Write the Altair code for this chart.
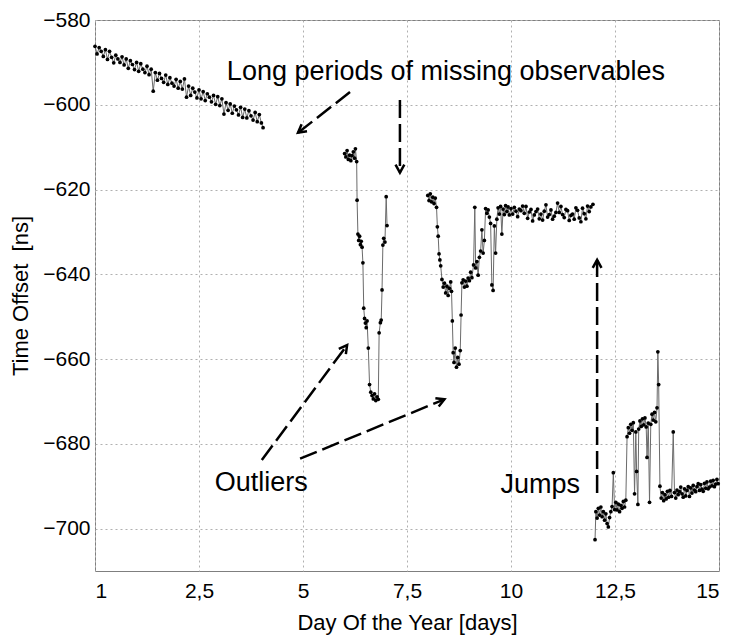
import math
import altair as alt
import pandas as pd

# ---- series (day index 0..15 drawn on axis labelled 1..15) ----
seg1_x = [0.00, 0.05, 0.10, 0.15, 0.20, 0.25, 0.30, 0.35, 0.40, 0.45, 0.50, 0.55, 0.60, 0.65, 0.70, 0.75, 0.80,
          0.85, 0.90, 0.95, 1.00, 1.05, 1.10, 1.15, 1.20, 1.25, 1.30, 1.35, 1.40, 1.45, 1.50, 1.55, 1.60, 1.65,
          1.70, 1.75, 1.80, 1.85, 1.90, 1.95, 2.00, 2.05, 2.10, 2.15, 2.20, 2.25, 2.30, 2.35, 2.40, 2.45, 2.50,
          2.55, 2.60, 2.65, 2.70, 2.75, 2.80, 2.85, 2.90, 2.95, 3.00, 3.05, 3.10, 3.15, 3.20, 3.25, 3.30, 3.35,
          3.40, 3.45, 3.50, 3.55, 3.60, 3.65, 3.70, 3.75, 3.80, 3.85, 3.90, 3.95, 4.00, 4.04]
seg1_y = [-586.2, -588.0, -586.5, -587.4, -588.6, -587.0, -589.3, -587.4, -588.8, -590.1, -588.3, -589.2, -590.0,
          -588.7, -590.6, -589.2, -591.4, -589.6, -590.5, -591.7, -590.0, -592.1, -590.3, -591.6, -592.4, -590.9,
          -592.9, -591.6, -596.8, -592.4, -594.2, -592.6, -593.8, -594.7, -593.0, -595.2, -593.6, -594.9, -595.6,
          -594.0, -596.1, -594.5, -596.3, -593.9, -598.2, -595.6, -597.8, -596.1, -597.0, -598.4, -596.5, -598.6,
          -596.9, -599.0, -597.4, -598.2, -599.3, -597.8, -599.9, -598.1, -600.2, -598.6, -602.2, -599.5, -601.3,
          -599.8, -602.0, -600.3, -601.2, -602.4, -600.6, -603.0, -601.0, -603.1, -601.4, -602.6, -603.6, -601.8,
          -604.0, -602.3, -604.3, -605.4]

seg2_x = [6.00, 6.03, 6.06, 6.09, 6.12, 6.15, 6.18, 6.21, 6.24, 6.26, 6.29, 6.30, 6.32, 6.34, 6.36, 6.38, 6.40,
          6.42, 6.44, 6.46, 6.48, 6.50, 6.52, 6.54, 6.57, 6.60, 6.63, 6.66, 6.69, 6.72, 6.75, 6.78, 6.81, 6.83,
          6.86, 6.88, 6.90, 6.92, 6.94, 6.97, 7.00, 7.02]
seg2_y = [-611.5, -612.3, -610.8, -612.9, -611.9, -613.2, -612.0, -611.1, -612.6, -610.4, -613.4, -622.5, -630.5,
          -632.0, -631.0, -633.0, -632.2, -633.6, -637.3, -648.0, -650.4, -651.5, -652.6, -651.0, -657.4, -666.0,
          -667.8, -668.6, -669.4, -668.2, -669.8, -668.9, -669.5, -653.8, -651.4, -650.8, -643.7, -633.1, -631.5,
          -632.4, -621.7, -628.5]

seg3_x = [8.00, 8.03, 8.06, 8.09, 8.12, 8.15, 8.18, 8.21, 8.23, 8.25, 8.27, 8.29, 8.31, 8.34, 8.37, 8.40, 8.43,
          8.46, 8.49, 8.52, 8.55, 8.57, 8.59, 8.61, 8.63, 8.66, 8.69, 8.72, 8.75, 8.78, 8.80, 8.82, 8.85, 8.88,
          8.91, 8.94, 8.97, 9.00, 9.03, 9.06, 9.10, 9.13, 9.15, 9.18, 9.21, 9.24, 9.27, 9.30, 9.33, 9.36, 9.39,
          9.42, 9.45, 9.48, 9.51, 9.54, 9.57, 9.60, 9.63, 9.66, 9.69, 9.72, 9.75, 9.78, 9.81, 9.84, 9.87, 9.90,
          9.93, 9.96, 10.00, 10.04, 10.08, 10.12, 10.16, 10.20, 10.24, 10.28, 10.32, 10.36, 10.40, 10.44, 10.48,
          10.52, 10.56, 10.60, 10.64, 10.68, 10.72, 10.76, 10.80, 10.84, 10.88, 10.92, 10.96, 11.00, 11.04, 11.08,
          11.12, 11.16, 11.20, 11.24, 11.28, 11.32, 11.36, 11.40, 11.44, 11.48, 11.52, 11.56, 11.60, 11.64, 11.68,
          11.72, 11.76, 11.80, 11.84, 11.88, 11.92, 11.97]
seg3_y = [-621.4, -622.6, -621.0, -622.9, -621.8, -623.3, -622.0, -624.2, -628.8, -631.0, -635.2, -636.6, -638.0,
          -641.2, -643.0, -642.1, -644.4, -642.8, -645.0, -643.3, -641.8, -644.0, -651.0, -658.5, -660.8, -657.4,
          -661.9, -659.6, -661.2, -658.0, -649.6, -642.0, -641.3, -643.0, -641.6, -642.8, -640.9, -641.5, -639.5,
          -640.8, -637.8, -624.2, -638.5, -637.0, -640.2, -636.0, -634.5, -629.5, -635.0, -632.0, -624.5, -625.6,
          -624.8, -626.5, -628.0, -642.5, -643.8, -628.6, -635.0, -627.0, -624.3, -625.8, -624.0, -630.5, -624.6,
          -625.9, -623.8, -625.2, -624.1, -626.0, -624.5, -625.8, -624.2, -625.1, -626.4, -624.6, -625.0, -623.9,
          -625.6, -624.0, -626.8, -625.3, -624.7, -627.4, -626.0, -625.2, -624.6, -626.9, -625.8, -627.2, -625.1,
          -623.6, -626.5, -625.9, -624.8, -627.0, -626.3, -625.4, -623.2, -625.4, -624.0, -625.9, -626.6, -624.7,
          -625.0, -627.3, -626.1, -625.8, -627.0, -624.3, -624.9, -626.7, -627.6, -624.4, -625.7, -626.9, -623.9,
          -625.2, -624.1, -623.5, -624.8, -623.9]

seg4_x = [12.02, 12.04, 12.07, 12.10, 12.13, 12.16, 12.19, 12.22, 12.25, 12.28, 12.31, 12.34, 12.37, 12.40, 12.43,
          12.46, 12.49, 12.52, 12.55, 12.58, 12.61, 12.64, 12.67, 12.70, 12.73, 12.76, 12.79, 12.82, 12.85, 12.88,
          12.91, 12.94, 12.97, 13.00, 13.02, 13.05, 13.07, 13.10, 13.13, 13.16, 13.19, 13.22, 13.25, 13.27, 13.30,
          13.33, 13.36, 13.39, 13.42, 13.45, 13.48, 13.51, 13.53, 13.55, 13.58, 13.61, 13.64, 13.67, 13.70, 13.73,
          13.76, 13.79, 13.82, 13.86, 13.90, 13.93, 13.96, 13.99, 14.02, 14.05, 14.08, 14.11, 14.14, 14.17, 14.20,
          14.23, 14.26, 14.29, 14.32, 14.35, 14.38, 14.41, 14.44, 14.47, 14.50, 14.53, 14.56, 14.59, 14.62, 14.65,
          14.68, 14.71, 14.74, 14.77, 14.80, 14.83, 14.86, 14.89, 14.92, 14.95, 14.98]
seg4_y = [-702.6, -696.0, -697.5, -695.2, -696.8, -694.9, -697.2, -696.0, -698.0, -696.5, -698.8, -699.6, -697.4,
          -696.0, -694.8, -686.8, -695.5, -693.8, -695.6, -694.2, -696.0, -694.5, -695.2, -693.6, -694.9, -693.3,
          -678.3, -676.2, -677.5, -675.4, -676.8, -675.0, -691.8, -677.2, -686.5, -694.3, -676.5, -674.6, -675.9,
          -674.1, -675.5, -673.9, -676.0, -683.2, -675.1, -693.8, -675.4, -673.0, -674.4, -672.6, -674.8, -671.5,
          -658.3, -666.0, -690.0, -692.8, -691.5, -693.4, -692.0, -693.0, -691.2, -692.6, -691.0, -692.4, -677.2,
          -691.5, -692.8, -690.9, -692.0, -691.3, -690.2, -691.8, -692.6, -690.6, -692.3, -691.0, -690.1, -692.4,
          -690.4, -691.6, -689.8, -690.9, -691.3, -690.1, -689.4, -691.0, -689.6, -690.7, -691.2, -689.3, -690.5,
          -689.0, -690.6, -690.2, -688.8, -689.9, -688.6, -690.1, -689.5, -688.4, -689.4]

x_ticks = [0, 2.5, 5, 7.5, 10, 12.5, 15]
y_ticks = [-700, -680, -660, -640, -620, -600, -580]

# ---- annotations ----
note_text = ["Long periods of missing observables", "Outliers", "Jumps"]
note_x = [3.17, 2.88, 9.75]
note_y = [-592.3, -689.2, -689.7]

arrow_x1 = [6.13, 7.33, 4.01, 4.93, 12.07]
arrow_y1 = [-597.0, -598.9, -683.8, -683.5, -691.6]
arrow_x2 = [4.88, 7.33, 6.06, 8.40, 12.07]
arrow_y2 = [-606.6, -616.0, -656.7, -669.5, -636.6]

W, H = 624, 551
XD, YD = [0, 15], [-710, -580]

rows = []
for i, (xs, ys) in enumerate([(seg1_x, seg1_y), (seg2_x, seg2_y), (seg3_x, seg3_y), (seg4_x, seg4_y)]):
    for a, b in zip(xs, ys):
        rows.append({"day": a, "offset": b, "seg": i})
df = pd.DataFrame(rows)

notes = pd.DataFrame({"day": note_x, "offset": note_y, "label": note_text})

pxx = W / (XD[1] - XD[0])
pxy = H / (YD[1] - YD[0])
angles = []
for a1, b1, a2, b2 in zip(arrow_x1, arrow_y1, arrow_x2, arrow_y2):
    dx = (a2 - a1) * pxx
    dy = -(b2 - b1) * pxy
    angles.append(math.degrees(math.atan2(dx, -dy)) % 360)
arrows = pd.DataFrame({"day": arrow_x1, "offset": arrow_y1, "day2": arrow_x2, "offset2": arrow_y2})
heads = pd.DataFrame({"day": arrow_x2, "offset": arrow_y2, "angle": angles})

FONT = "Liberation Sans"
xs = alt.Scale(domain=XD, nice=False, zero=False)
ys = alt.Scale(domain=YD, nice=False, zero=False)

x_enc = alt.X("day:Q", scale=xs, axis=alt.Axis(
    values=x_ticks, title="Day Of the Year [days]",
    labelExpr="datum.value == 0 ? '1' : replace(toString(datum.value), '.', ',')",
    labelPadding=9, titlePadding=11))
y_enc = alt.Y("offset:Q", scale=ys, axis=alt.Axis(
    values=y_ticks, title="Time Offset\u00a0 [ns]", labelPadding=5, titlePadding=10))

line = alt.Chart(df).mark_line(color="#6b6b6b", strokeWidth=1).encode(x=x_enc, y=y_enc, detail="seg:N")
pts = alt.Chart(df).mark_circle(size=14, color="black", opacity=1).encode(x=x_enc, y=y_enc)

txt = alt.Chart(notes).mark_text(align="left", baseline="middle", font=FONT, fontSize=27,
                                  color="black").encode(x=x_enc, y=y_enc, text="label:N")
rules = alt.Chart(arrows).mark_rule(color="black", strokeWidth=2.5, strokeDash=[18, 6]).encode(
    x=x_enc, y=y_enc, x2="day2:Q", y2="offset2:Q")
hd = alt.Chart(heads).mark_point(shape="M-0.55,1L0,0L0.55,1", filled=False, size=256, strokeWidth=2.5,
                                  color="black", opacity=1).encode(
    x=x_enc, y=y_enc, angle=alt.Angle("angle:Q", scale=None))

chart = alt.layer(line, pts, rules, hd, txt).properties(
    width=W, height=H, autosize="none",
    padding={"left": 87, "top": 12, "right": 2, "bottom": 64},
    background="white"
).configure_view(stroke="#7f7f7f", strokeWidth=1).configure_axis(
    labelFont=FONT, labelFontSize=21, labelColor="black",
    titleFont=FONT, titleFontSize=22, titleFontWeight="normal", titleColor="black",
    domain=False, ticks=False, grid=True, gridColor="#b0b0b0", gridDash=[2, 3], gridWidth=1
)

chart.save("out.html", embed_options={"renderer": "svg", "actions": False})
